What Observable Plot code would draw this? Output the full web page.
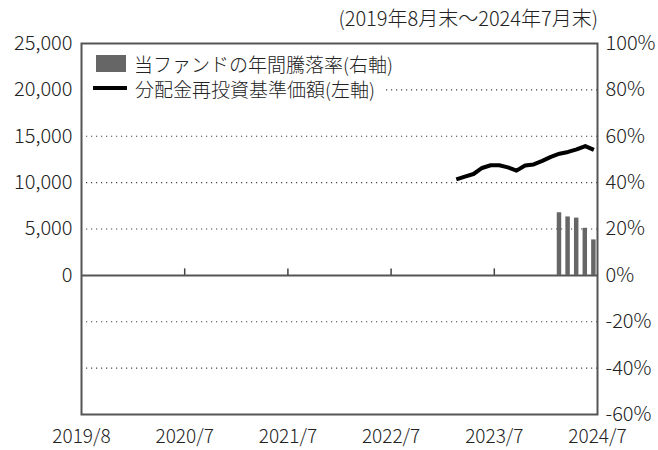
<!DOCTYPE html>
<html>
<head>
<meta charset="utf-8">
<script src="https://cdn.jsdelivr.net/npm/d3@7"></script>
<script src="https://cdn.jsdelivr.net/npm/@observablehq/plot@0.6"></script>
<style>
  body { margin: 0; background: #fff; font-family: "Noto Sans CJK JP", "Noto Sans", sans-serif; font-weight: 300; }
  #wrap { position: relative; width: 658px; height: 450px; }
  #sub { position: absolute; left: 0; top: 3px; width: 598px; text-align: right; font-size: 20px; color: #222; white-space: nowrap; }
  #chart { position: absolute; left: 0; top: 30px; }
  #legend { position: absolute; left: 85px; top: 46px; width: 298px; height: 56px; background: #fff; font-size: 19px; color: #222; }
  .row { position: absolute; left: 0; height: 26px; display: flex; align-items: center; white-space: nowrap; }
  .sw { display: inline-block; margin-right: 8px; }
</style>
</head>
<body>
<div id="wrap">
  <div id="sub">(2019年8月末〜2024年7月末)</div>
  <div id="chart"></div>
  <div id="legend">
    <div class="row" style="top:4px"><span class="sw" style="margin-left:11px;width:30px;height:17px;background:#666"></span><span>当ファンドの年間騰落率(右軸)</span></div>
    <div class="row" style="top:29px"><span class="sw" style="margin-left:8px;width:34px;height:4px;background:#000"></span><span>分配金再投資基準価額(左軸)</span></div>
  </div>
</div>
<script>
// x-axis tick labels
const xLabels = ["2019/8", "2020/7", "2021/7", "2022/7", "2023/7", "2024/7"];
// 分配金再投資基準価額 (left axis, yen)
const navDates = ["2023/3","2023/4","2023/5","2023/6","2023/7","2023/8","2023/9","2023/10","2023/11","2023/12","2024/1","2024/2","2024/3","2024/4","2024/5","2024/6","2024/7"];
const navValues = [10350, 10650, 10930, 11580, 11870, 11870, 11650, 11290, 11850, 11960, 12340, 12770, 13120, 13310, 13580, 13940, 13530];
// 年間騰落率 (right axis, %)
const retDates = ["2024/3","2024/4","2024/5","2024/6","2024/7"];
const retValues = [27.0, 25.2, 24.7, 20.3, 15.3];
// axis ticks
const leftTicks = [0, 5000, 10000, 15000, 20000, 25000];
const rightTicks = [100, 80, 60, 40, 20, 0, -20, -40, -60];
const gridPct = [80, 60, 40, 20, -20, -40];

const toIdx = s => { const [y, m] = s.split("/").map(Number); return (y - 2019) * 12 + (m - 8); };
const PCT = 250; // 100% == 25,000
const xTickPos = xLabels.map((s, i) => i * 12);

const nav = navDates.map((d, i) => ({ i: toIdx(d), v: navValues[i] }));
const ret = retDates.map((d, i) => ({ i: toIdx(d), v: retValues[i] }));

const FS = 20;
const chart = Plot.plot({
  width: 658,
  height: 420,
  marginLeft: 81,
  marginRight: 61,
  marginTop: 13,
  marginBottom: 36,
  style: { fontFamily: "'Noto Sans CJK JP', 'Noto Sans', sans-serif", fontSize: FS + "px", fontWeight: 300, color: "#222", background: "#fff", overflow: "visible" },
  x: { domain: [0, 60], axis: null },
  y: { domain: [-15000, 25000], axis: null },
  marks: [
    Plot.ruleY(gridPct, { y: d => d * PCT, stroke: "#444", strokeWidth: 1.2, strokeDasharray: "1.2,3.8" }),
    Plot.rectY(ret, { x1: d => d.i + 0.32, x2: d => d.i + 0.84, y1: 0, y2: d => d.v * PCT, fill: "#666" }),
    Plot.ruleY([0], { stroke: "#555", strokeWidth: 2 }),
    Plot.ruleX(xTickPos.slice(1, -1), { x: d => d, y1: 0, y2: 700, stroke: "#444", strokeWidth: 1.5 }),
    Plot.line(nav, { x: d => d.i + 0.58, y: "v", stroke: "#000", strokeWidth: 4, strokeLinejoin: "round", strokeLinecap: "butt" }),
    Plot.frame({ stroke: "#555", strokeWidth: 2 }),
    Plot.axisY({ anchor: "left", label: null, ticks: leftTicks, tickSize: 0, tickPadding: 9, tickFormat: d3.format(","), fontSize: FS }),
    Plot.axisY({ anchor: "right", label: null, ticks: rightTicks.map(p => p * PCT), tickSize: 0, tickPadding: 8, tickFormat: v => Math.round(v / PCT) + "%", fontSize: FS }),
    Plot.axisX({ anchor: "bottom", label: null, ticks: xTickPos, tickSize: 0, tickPadding: 15, tickFormat: (d, i) => xLabels[i], fontSize: 19 })
  ]
});
document.getElementById("chart").appendChild(chart);
</script>
</body>
</html>
